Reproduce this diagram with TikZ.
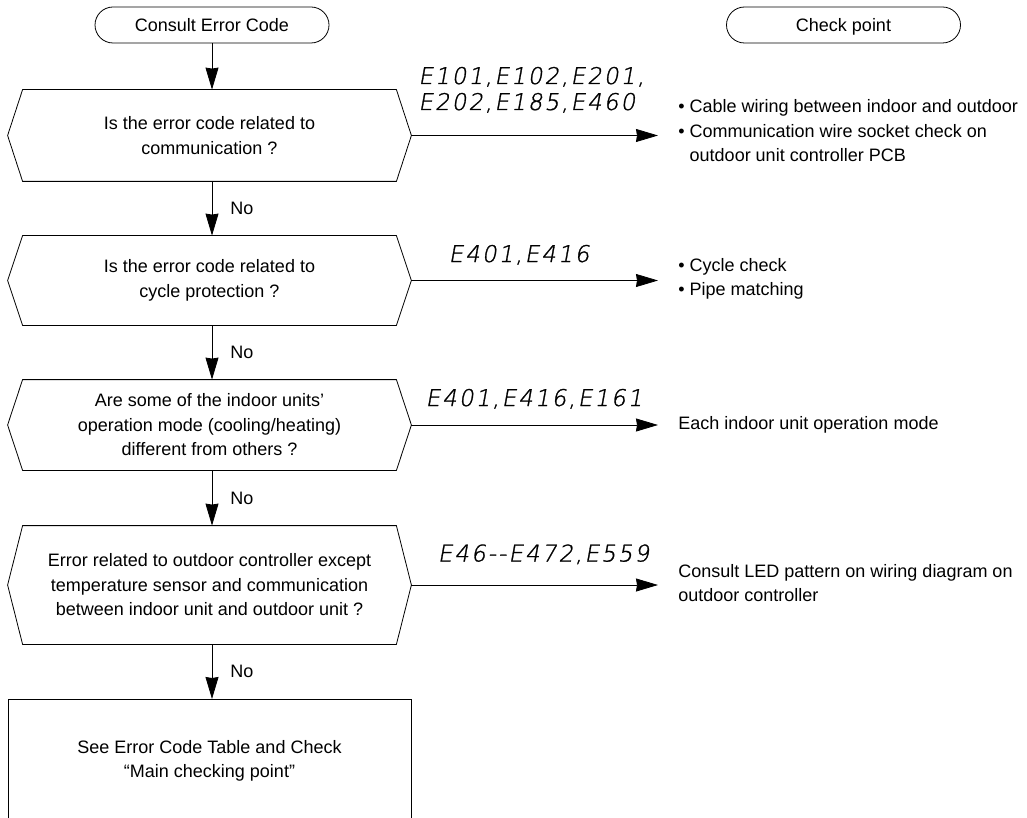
\documentclass[tikz,border=0pt]{standalone}
\usepackage{fontspec}
\setmainfont{Liberation Sans}
\newfontfamily\segfont[FakeSlant=0.18,LetterSpace=9,FakeBold=1.2]{DejaVu Sans ExtraLight}
\usetikzlibrary{shapes.misc,arrows.meta,calc}
\begin{document}
\begin{tikzpicture}[x=1pt,y=-1pt, line width=0.8pt,
  font=\fontsize{18}{24.5}\selectfont,
  term/.style={rounded rectangle, draw, minimum width=234pt, minimum height=36pt, inner sep=0pt, text height=13pt, text depth=0pt},
  hexbox/.style={minimum width=403pt, inner sep=0pt, align=center},
  flow/.style={-{Stealth[length=22pt,width=13pt,inset=1pt]}},
  code/.style={font=\segfont\fontsize{23}{26}\selectfont, inner sep=0pt},
  note/.style={align=left, anchor=west, inner sep=0pt},
  lbl/.style={inner sep=0pt, anchor=west, xshift=18pt}]
\fill[white] (0,0) rectangle (1027,818);
\useasboundingbox (0,0) rectangle (1027,818);

% terminators
\node[term] (start) at (212,25) {Consult Error Code};
\node[term] (check) at (843.5,25) {Check point};

% decisions
\node[hexbox, minimum height=91pt] (q1) at (209.5,135.5) {Is the error code related to\\communication ?};
\node[hexbox, minimum height=89pt] (q2) at (209.5,280.5) {Is the error code related to\\cycle protection ?};
\node[hexbox, minimum height=90pt] (q3) at (209.5,425) {Are some of the indoor units’\\operation mode (cooling/heating)\\different from others ?};
\node[hexbox, minimum height=118pt] (q4) at (209.5,585) {Error related to outdoor controller except\\temperature sensor and communication\\between indoor unit and outdoor unit ?};
\foreach \n in {q1,q2,q3,q4}
  \draw ($(\n.north west)+(15,0)$) -- ($(\n.north east)+(-15,0)$) -- (\n.east)
     -- ($(\n.south east)+(-15,0)$) -- ($(\n.south west)+(15,0)$) -- (\n.west) -- cycle;

% final box
\node[align=center, inner sep=0pt] (res) at (209.5,761) {See Error Code Table and Check\\“Main checking point”};
\coordinate (restop) at (212,699);
\draw (8,830) -- (8,699) -- (411,699) -- (411,830);

% vertical flow
\draw[flow] (start.south) -- (start.south |- q1.north);
\draw[flow] (q1.south -| start.south) -- node[lbl] {No} (q2.north -| start.south);
\draw[flow] (q2.south -| start.south) -- node[lbl] {No} (q3.north -| start.south);
\draw[flow] (q3.south -| start.south) -- node[lbl] {No} (q4.north -| start.south);
\draw[flow] (q4.south -| start.south) -- node[lbl] {No} (restop);

% right-hand branches
\coordinate (t1) at (658,135.5);
\coordinate (t2) at (658,280.5);
\coordinate (t3) at (658,425);
\coordinate (t4) at (658,585);
\draw[flow] (q1.east) -- (t1);
\draw[flow] (q2.east) -- (t2);
\draw[flow] (q3.east) -- (t3);
\draw[flow] (q4.east) -- (t4);

% error codes
\node[code, anchor=base east] (c1a) at (645,84) {E101,E102,E201,};
\node[code, anchor=base west] (c1b) at (c1a.base west |- 0,110) {E202,E185,E460};
\node[code, anchor=base] (c2) at (519,262) {E401,E416};
\node[code, anchor=base] (c3) at (534,406) {E401,E416,E161};
\node[code, anchor=base] (c4) at (543.5,561.5) {E46-\kern2pt-E472,E559};

% check point notes
\node[note] (n1) at (678,131) {\textbullet\ Cable wiring between indoor and outdoor\\\textbullet\ Communication wire socket check on\\\phantom{\textbullet\ }outdoor unit controller PCB};
\node[note] (n2) at (678,279) {\textbullet\ Cycle check\\\textbullet\ Pipe matching};
\node[note] (n3) at (678,425) {Each indoor unit operation mode};
\node[note] (n4) at (678,583) {Consult LED pattern on wiring diagram on\\outdoor controller};
\end{tikzpicture}
\end{document}
